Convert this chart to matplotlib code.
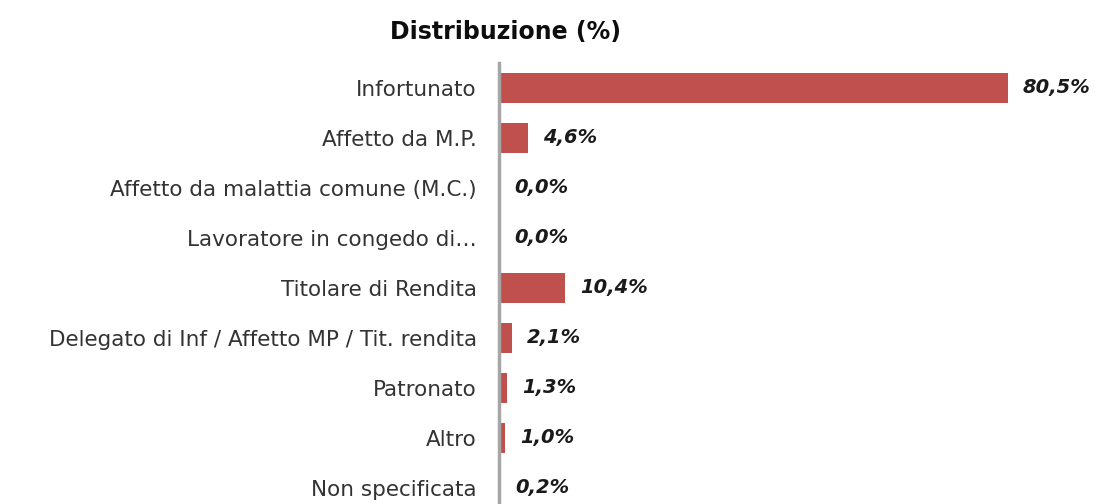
import matplotlib
matplotlib.use('Agg')
import matplotlib.pyplot as plt

'Data read from the chart'
categorie = ['Infortunato', 'Affetto da M.P.', 'Affetto da malattia comune (M.C.)',
             'Lavoratore in congedo di\u2026', 'Titolare di Rendita',
             'Delegato di Inf / Affetto MP / Tit. rendita', 'Patronato', 'Altro',
             'Non specificata']
valori = [80.5, 4.6, 0.0, 0.0, 10.4, 2.1, 1.3, 1.0, 0.2]
etichette = ['80,5%', '4,6%', '0,0%', '0,0%', '10,4%', '2,1%', '1,3%', '1,0%', '0,2%']

plt.rcParams['font.family'] = ['DejaVu Sans']

W, H = 1096, 504
fig = plt.figure(figsize=(W / 100, H / 100), dpi=100)
# axes placed in pixels: left edge at the grey axis line, rows 50 px apart
left, top, row = 499, 63, 50
xmax = 90
pxper = 6.32
ax = fig.add_axes([left / W, (H - top - row * len(categorie)) / H,
                   xmax * pxper / W, row * len(categorie) / H])

pos = list(range(len(categorie)))
ax.barh(pos, valori, height=0.6, color='#C0504D')
ax.set_ylim(len(categorie) - 0.5, -0.5)
ax.set_xlim(0, xmax)

for p, v, t in zip(pos, valori, etichette):
    ax.annotate(t, (v, p), xytext=(15, 0), textcoords='offset pixels',
                va='center', ha='left', fontsize=14, fontweight='bold',
                fontstyle='italic', color='#1a1a1a')

ax.set_yticks(pos)
ax.set_yticklabels(categorie, fontsize=15.5, color='#333333')
ax.tick_params(axis='y', length=0, pad=16)
ax.set_xticks([])
for s in ['top', 'right', 'bottom']:
    ax.spines[s].set_visible(False)
ax.spines['left'].set_color('#A6A6A6')
ax.spines['left'].set_linewidth(2.5)

fig.text(505 / W, 1 - 32 / H, 'Distribuzione (%)', ha='center', va='center',
         fontsize=17, fontweight='bold', color='#0d0d0d')

fig.savefig('out.png', dpi=100)
